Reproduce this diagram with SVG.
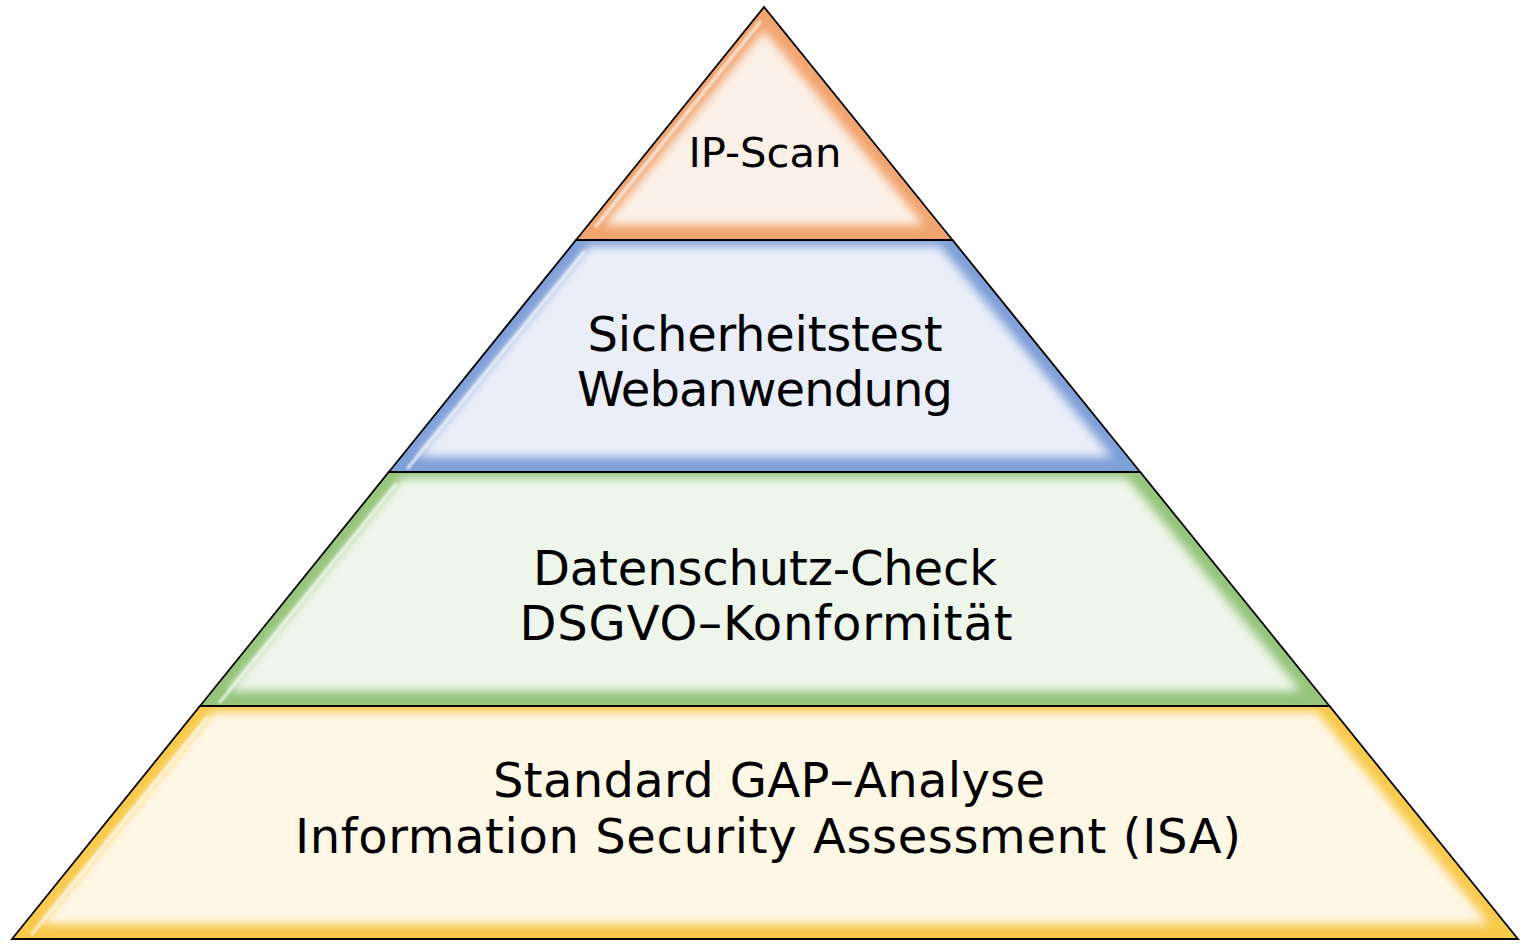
<svg xmlns="http://www.w3.org/2000/svg" width="1528" height="947" viewBox="0 0 1528 947">
<style>
.lbl{font-family:"DejaVu Sans","Verdana",sans-serif;font-size:48px;fill:#000;text-anchor:middle}
.sm{font-size:41px}
.outline{fill:none;stroke:#000;stroke-width:1.8;stroke-linejoin:miter}
.hl{fill:none;stroke:#fff;stroke-width:3;stroke-linecap:round;opacity:0.75}
</style>
<defs>
<filter id="soft" x="-10%" y="-10%" width="120%" height="120%"><feGaussianBlur stdDeviation="5"/></filter>
<filter id="softer" x="-10%" y="-10%" width="120%" height="120%"><feGaussianBlur stdDeviation="1.2"/></filter>
<clipPath id="c1"><polygon points="764,7 576,240 952.5,240"/></clipPath>
<clipPath id="c2"><polygon points="576,240 952.5,240 1140.2,472 388.8,472"/></clipPath>
<clipPath id="c3"><polygon points="388.8,472 1140.2,472 1329.5,706 200,706"/></clipPath>
<clipPath id="c4"><polygon points="200,706 1329.5,706 1518,939 12,939"/></clipPath>
</defs>
<rect width="1528" height="947" fill="#fff"/>

<g id="layer-ip-scan">
<g clip-path="url(#c1)">
<polygon points="764,7 576,240 952.5,240" fill="#F2A46E"/>
<polygon points="764,30 604,225 924,225" fill="#FBF0E7" filter="url(#soft)"/>
<polyline class="hl" points="760,22 596,226" filter="url(#softer)"/>
</g>
<polygon class="outline" points="764,7 576,240 952.5,240"/>
<text class="lbl sm" x="765" y="167" textLength="153" lengthAdjust="spacingAndGlyphs">IP-Scan</text>
</g>

<g id="layer-sicherheitstest">
<g clip-path="url(#c2)">
<polygon points="576,240 952.5,240 1140.2,472 388.8,472" fill="#7F9FD8"/>
<polygon points="588.7,246 939.8,246 1112,457 417,457" fill="#E9EEF8" filter="url(#soft)"/>
<polyline class="hl" points="584,252 408,468" filter="url(#softer)"/>
</g>
<polygon class="outline" points="576,240 952.5,240 1140.2,472 388.8,472"/>
<text class="lbl" x="765" y="351" textLength="355">Sicherheitstest</text>
<text class="lbl" x="765" y="406" textLength="376">Webanwendung</text>
</g>

<g id="layer-datenschutz">
<g clip-path="url(#c3)">
<polygon points="388.8,472 1140.2,472 1329.5,706 200,706" fill="#95C47A"/>
<polygon points="401.5,478 1127.5,478 1301,691 228.5,691" fill="#EEF5EA" filter="url(#soft)"/>
<polyline class="hl" points="396,484 220,702" filter="url(#softer)"/>
</g>
<polygon class="outline" points="388.8,472 1140.2,472 1329.5,706 200,706"/>
<text class="lbl" x="765" y="585" textLength="464">Datenschutz-Check</text>
<text class="lbl" x="766" y="640" textLength="493">DSGVO–Konformität</text>
</g>

<g id="layer-gap-analyse">
<g clip-path="url(#c4)">
<polygon points="200,706 1329.5,706 1518,939 12,939" fill="#F9C94A"/>
<polygon points="212.6,712 1316.8,712 1489,924 41,924" fill="#FEF7E6" filter="url(#soft)"/>
<polyline class="hl" points="207,718 32,934" filter="url(#softer)"/>
</g>
<polygon class="outline" points="200,706 1329.5,706 1518,939 12,939"/>
<text class="lbl" x="769" y="797" textLength="552">Standard GAP–Analyse</text>
<text class="lbl" x="768" y="853" textLength="946">Information Security Assessment (ISA)</text>
</g>

<g id="connectors"/>
</svg>
